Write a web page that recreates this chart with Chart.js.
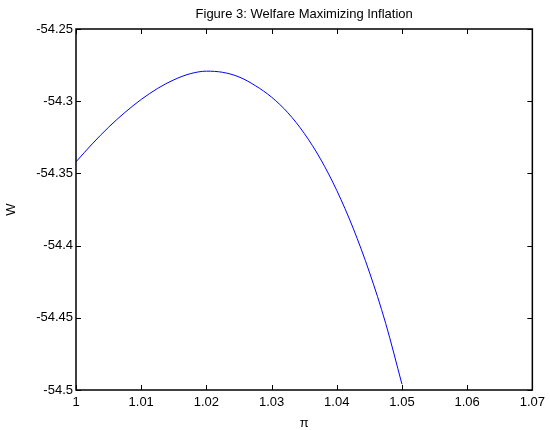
<!DOCTYPE html>
<html>
<head>
<meta charset="utf-8">
<title>Figure 3: Welfare Maximizing Inflation</title>
<script src="https://cdn.jsdelivr.net/npm/chart.js@4/dist/chart.umd.min.js"></script>
<style>
  body { margin: 0; background: #fff; }
  #wrap { width: 550px; height: 430px; }
</style>
</head>
<body>
<div id="wrap"><canvas id="chart" width="550" height="430"></canvas></div>
<script>
// values
const piValues = [1.0000, 1.0025, 1.0050, 1.0075, 1.0100, 1.0125, 1.0150, 1.0175, 1.0200,
                  1.0225, 1.0250, 1.0275, 1.0300, 1.0325, 1.0350, 1.0375, 1.0400, 1.0425,
                  1.0450, 1.0475, 1.0500];
const welfare = [-54.3420, -54.3295, -54.3180, -54.3078, -54.2988, -54.2912, -54.2852, -54.2810, -54.2792,
                 -54.2800, -54.2832, -54.2892, -54.2972, -54.3080, -54.3222, -54.3400, -54.3618, -54.3878,
                 -54.4183, -54.4538, -54.4960];
const xTicks = [1, 1.01, 1.02, 1.03, 1.04, 1.05, 1.06, 1.07];
const yTicks = [-54.5, -54.45, -54.4, -54.35, -54.3, -54.25];

const FONT = '"Liberation Sans", Arial, Helvetica, sans-serif';
const fmt = v => String(Number(Number(v).toFixed(2)));

// matlab style box with inward ticks on all four sides, plus title and labels
const matlabFrame = {
    id: 'matlabFrame',
    afterDraw(chart) {
        const { ctx, chartArea: a, scales } = chart;
        const len = 5;
        ctx.save();
        ctx.strokeStyle = '#000';
        ctx.lineWidth = 1;
        ctx.beginPath();
        xTicks.forEach(t => {
            const x = Math.round(scales.x.getPixelForValue(t)) + 0.5;
            ctx.moveTo(x, a.bottom); ctx.lineTo(x, a.bottom - len);
            ctx.moveTo(x, a.top); ctx.lineTo(x, a.top + len);
        });
        yTicks.forEach(t => {
            const y = Math.round(scales.y.getPixelForValue(t)) + 0.5;
            ctx.moveTo(a.left, y); ctx.lineTo(a.left + len, y);
            ctx.moveTo(a.right, y); ctx.lineTo(a.right - len, y);
        });
        ctx.stroke();
        ctx.lineWidth = 1.5;
        ctx.strokeRect(a.left, a.top, a.right - a.left, a.bottom - a.top);

        ctx.fillStyle = '#000';
        ctx.textAlign = 'center';
        ctx.textBaseline = 'middle';
        ctx.font = '13px ' + FONT;
        ctx.fillText('Figure 3: Welfare Maximizing Inflation', (a.left + a.right) / 2, 14);
        ctx.fillText('\u03C0', (a.left + a.right) / 2, 423);
        ctx.translate(11, (a.top + a.bottom) / 2);
        ctx.rotate(-Math.PI / 2);
        ctx.fillText('W', 0, 0);
        ctx.restore();
    }
};

new Chart(document.getElementById('chart'), {
    type: 'scatter',
    data: {
        datasets: [{
            data: piValues.map((p, i) => ({ x: p, y: welfare[i] })),
            showLine: true,
            borderColor: '#0000ff',
            borderWidth: 1,
            pointRadius: 0,
            cubicInterpolationMode: 'monotone',
            fill: false
        }]
    },
    options: {
        responsive: false,
        animation: false,
        layout: { padding: { left: 0, right: 15, top: 29, bottom: 0 } },
        plugins: {
            legend: { display: false },
            tooltip: { enabled: false }
        },
        scales: {
            x: {
                type: 'linear',
                min: 1,
                max: 1.07,
                afterFit: s => { s.height = 40; },
                afterBuildTicks: s => { s.ticks = xTicks.map(v => ({ value: v })); },
                grid: { display: false, drawTicks: false },
                border: { display: false },
                ticks: {
                    callback: fmt,
                    color: '#000',
                    padding: 5,
                    maxRotation: 0,
                    autoSkip: false,
                    font: { family: FONT, size: 13 }
                }
            },
            y: {
                min: -54.5,
                max: -54.25,
                afterFit: s => { s.width = 76; },
                afterBuildTicks: s => { s.ticks = yTicks.map(v => ({ value: v })); },
                grid: { display: false, drawTicks: false },
                border: { display: false },
                ticks: {
                    callback: fmt,
                    color: '#000',
                    padding: 3,
                    autoSkip: false,
                    font: { family: FONT, size: 13 }
                }
            }
        }
    },
    plugins: [matlabFrame]
});
</script>
</body>
</html>
